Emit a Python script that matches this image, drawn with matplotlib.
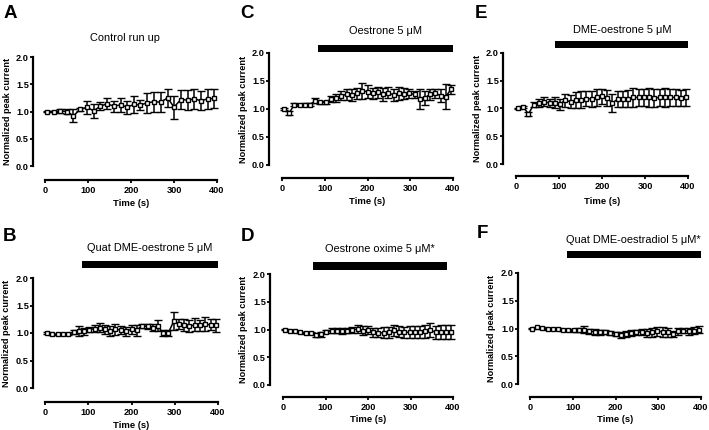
import matplotlib
matplotlib.use("Agg")
import matplotlib.pyplot as plt

plt.rcParams['font.family'] = ['Liberation Sans', 'DejaVu Sans']

# ---------------- data ----------------
time_a = [4, 20, 35, 51, 66, 82, 98, 113, 129, 144, 160, 176, 191, 207, 222,
          238, 254, 269, 285, 300, 316, 332, 347, 363, 378, 394]
time_b = [5, 17, 29, 41, 54, 66, 78, 90, 102, 115, 127, 139, 151, 163, 176, 188,
          200, 212, 224, 237, 249, 261, 273, 285, 298, 310, 322, 334, 346, 359,
          371, 383, 395]

mean_a = [1.00, 1.00, 1.01, 1.00, 0.92, 1.04, 1.08, 1.01, 1.10, 1.14, 1.10, 1.12,
          1.08, 1.13, 1.12, 1.16, 1.18, 1.17, 1.25, 1.08, 1.22, 1.21, 1.23, 1.20,
          1.23, 1.24]
sem_a = [0.01, 0.01, 0.03, 0.04, 0.12, 0.03, 0.12, 0.13, 0.08, 0.10, 0.10, 0.12,
         0.12, 0.16, 0.10, 0.18, 0.18, 0.18, 0.17, 0.21, 0.18, 0.19, 0.18, 0.18,
         0.18, 0.18]

mean_c = [1.00, 0.93, 1.08, 1.07, 1.08, 1.08, 1.15, 1.12, 1.12, 1.18, 1.20, 1.24,
          1.26, 1.25, 1.28, 1.32, 1.31, 1.28, 1.30, 1.26, 1.29, 1.25, 1.28, 1.27,
          1.28, 1.26, 1.18, 1.20, 1.26, 1.28, 1.24, 1.22, 1.35]
sem_c = [0.01, 0.04, 0.02, 0.02, 0.02, 0.03, 0.04, 0.03, 0.03, 0.05, 0.07, 0.08,
         0.10, 0.10, 0.10, 0.14, 0.12, 0.10, 0.10, 0.12, 0.10, 0.10, 0.12, 0.10,
         0.08, 0.06, 0.18, 0.12, 0.10, 0.08, 0.12, 0.22, 0.08]

mean_e = [1.00, 1.03, 0.90, 1.07, 1.10, 1.12, 1.10, 1.10, 1.08, 1.15, 1.12, 1.15,
          1.16, 1.18, 1.17, 1.20, 1.22, 1.19, 1.10, 1.17, 1.17, 1.18, 1.20, 1.20,
          1.20, 1.20, 1.19, 1.20, 1.20, 1.20, 1.20, 1.19, 1.20]
sem_e = [0.01, 0.02, 0.04, 0.04, 0.07, 0.08, 0.08, 0.10, 0.10, 0.12, 0.12, 0.14,
         0.15, 0.14, 0.15, 0.15, 0.13, 0.14, 0.16, 0.14, 0.15, 0.15, 0.17, 0.16,
         0.16, 0.17, 0.16, 0.16, 0.17, 0.16, 0.16, 0.15, 0.15]

mean_b = [1.00, 0.98, 0.98, 0.98, 0.98, 1.02, 1.04, 1.03, 1.06, 1.08, 1.10, 1.07,
          1.03, 1.07, 1.05, 1.03, 1.07, 1.05, 1.13, 1.12, 1.10, 1.13, 1.00, 1.00,
          1.22, 1.17, 1.15, 1.12, 1.15, 1.14, 1.16, 1.15, 1.14]
sem_b = [0.01, 0.01, 0.01, 0.01, 0.01, 0.04, 0.09, 0.07, 0.05, 0.07, 0.09, 0.08,
         0.09, 0.10, 0.07, 0.08, 0.08, 0.10, 0.03, 0.04, 0.07, 0.10, 0.05, 0.06,
         0.16, 0.09, 0.11, 0.11, 0.12, 0.10, 0.13, 0.10, 0.12]

mean_d = [1.00, 0.98, 0.97, 0.95, 0.94, 0.93, 0.90, 0.91, 0.96, 0.98, 0.98, 0.97,
          0.98, 0.99, 1.01, 0.98, 0.99, 0.95, 0.94, 0.94, 0.95, 0.99, 0.96, 0.95,
          0.95, 0.96, 0.96, 0.97, 0.99, 0.95, 0.96, 0.96, 0.96]
sem_d = [0.01, 0.01, 0.01, 0.01, 0.02, 0.02, 0.03, 0.04, 0.03, 0.04, 0.04, 0.05,
         0.05, 0.06, 0.08, 0.08, 0.07, 0.08, 0.08, 0.10, 0.10, 0.10, 0.10, 0.10,
         0.11, 0.11, 0.11, 0.12, 0.12, 0.12, 0.13, 0.13, 0.13]

mean_f = [1.00, 1.02, 1.01, 0.99, 0.99, 0.99, 0.97, 0.97, 0.97, 0.97, 0.98, 0.95,
          0.94, 0.93, 0.94, 0.92, 0.90, 0.88, 0.90, 0.92, 0.93, 0.94, 0.92, 0.93,
          0.95, 0.94, 0.93, 0.90, 0.95, 0.96, 0.95, 0.96, 0.98]
sem_f = [0.01, 0.01, 0.01, 0.01, 0.01, 0.02, 0.02, 0.02, 0.03, 0.04, 0.06, 0.05,
         0.05, 0.05, 0.04, 0.04, 0.04, 0.05, 0.06, 0.06, 0.05, 0.06, 0.07, 0.08,
         0.08, 0.09, 0.08, 0.06, 0.06, 0.05, 0.06, 0.06, 0.07]

titles = {
    'A': 'Control run up',
    'B': 'Quat DME-oestrone 5 \u03bcM',
    'C': 'Oestrone 5 \u03bcM',
    'D': 'Oestrone oxime 5 \u03bcM*',
    'E': 'DME-oestrone 5 \u03bcM',
    'F': 'Quat DME-oestradiol 5 \u03bcM*',
}
# treatment application (start, end) in s
treat = {
    'B': (85, 400),
    'C': (84, 400),
    'D': (70, 387),
    'E': (91, 400),
    'F': (87, 400),
}

x_ticks = [0, 100, 200, 300, 400]
y_ticks = [0.0, 0.5, 1.0, 1.5, 2.0]

# ---------------- layout (pixels) ----------------
W, H = 709, 430
fig = plt.figure(figsize=(W / 100, H / 100), dpi=100)

layout = {
    'A': dict(x0=45, x1=217, yt=57, yb=166, ls=33, bs=180, bar=None, title=(125, 38), letter=(10, 14), ylx=8, xly=203),
    'C': dict(x0=282, x1=453, yt=53, yb=165, ls=269, bs=178, bar=(2.01, 2.14), title=(385, 31), letter=(247, 14), ylx=243, xly=201),
    'E': dict(x0=516, x1=688, yt=53, yb=164, ls=503, bs=176, bar=(2.09, 2.22), title=(622, 30), letter=(481, 14), ylx=477, xly=201),
    'B': dict(x0=45, x1=218, yt=278, yb=388, ls=33, bs=402, bar=(2.18, 2.31), title=(150, 248), letter=(10, 237), ylx=7, xly=425),
    'D': dict(x0=283, x1=453, yt=274, yb=385, ls=270, bs=397, bar=(2.07, 2.22), title=(380, 249), letter=(247, 237), ylx=243, xly=420),
    'F': dict(x0=530, x1=701, yt=273, yb=384, ls=518, bs=397, bar=(2.27, 2.40), title=(633, 240), letter=(482, 233), ylx=492, xly=420),
}

series = {
    'A': (time_a, mean_a, sem_a),
    'B': (time_b, mean_b, sem_b),
    'C': (time_b, mean_c, sem_c),
    'D': (time_b, mean_d, sem_d),
    'E': (time_b, mean_e, sem_e),
    'F': (time_b, mean_f, sem_f),
}

PT = 0.72  # points per pixel at 100 dpi

for key, L in layout.items():
    ax = fig.add_axes([L['x0'] / W, 1 - L['yb'] / H,
                       (L['x1'] - L['x0']) / W, (L['yb'] - L['yt']) / H])
    t, m, e = series[key]
    ax.errorbar(t, m, yerr=e, fmt='-', color='black', lw=1.1,
                marker='s', ms=3.2, mfc='white', mec='black', mew=1.0,
                ecolor='black', elinewidth=1.1, capsize=3.0, capthick=1.1,
                clip_on=False, zorder=3)
    ax.set_xlim(0, 400)
    ax.set_ylim(0, 2.0)
    ax.set_xticks(x_ticks)
    ax.set_yticks(y_ticks)
    ax.set_yticklabels([f"{v:.1f}" for v in y_ticks])
    for s in ['top', 'right']:
        ax.spines[s].set_visible(False)
    ax.spines['left'].set_position(('outward', (L['x0'] - L['ls']) * PT))
    ax.spines['bottom'].set_position(('outward', (L['bs'] - L['yb']) * PT))
    for s in ['left', 'bottom']:
        ax.spines[s].set_linewidth(1.6)
    ax.tick_params(direction='out', length=2.4, width=1.3, labelsize=6.6)
    ax.tick_params(axis='x', pad=2.0)
    ax.tick_params(axis='y', pad=0.6)
    for lab in ax.get_xticklabels() + ax.get_yticklabels():
        lab.set_fontweight('bold')
    ax.set_xlabel('Time (s)', fontsize=6.8, fontweight='bold')
    ax.set_ylabel('Normalized peak current', fontsize=6.6, fontweight='bold')
    wpx = L['x1'] - L['x0']
    hpx = L['yb'] - L['yt']
    ax.xaxis.set_label_coords(0.5, (L['yb'] - L['xly']) / hpx)
    ax.xaxis.label.set_va('center')
    ax.yaxis.set_label_coords((L['ylx'] - L['x0']) / wpx, 0.5)
    ax.yaxis.label.set_va('center')
    ax.patch.set_visible(False)

    if L['bar'] is not None:
        s0, s1 = treat[key]
        ax.fill_between([s0, s1], [L['bar'][0]] * 2, [L['bar'][1]] * 2,
                        color='black', clip_on=False, lw=0)

    tx, ty = L['title']
    fig.text(tx / W, 1 - ty / H, titles[key], ha='center', va='center', fontsize=7.9)
    lx, ly = L['letter']
    fig.text(lx / W, 1 - ly / H, key, ha='center', va='center', fontsize=13.5, fontweight='bold')

fig.savefig('out.png', dpi=100)
